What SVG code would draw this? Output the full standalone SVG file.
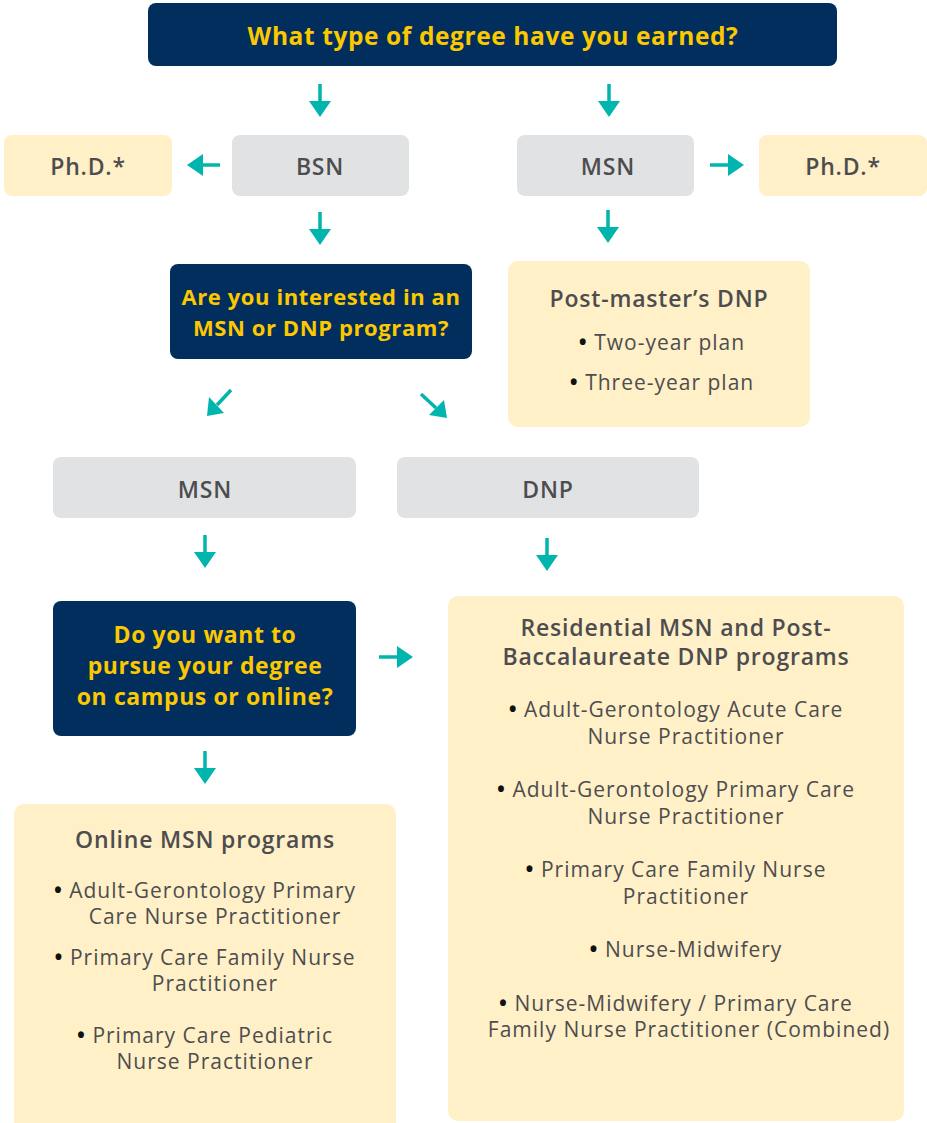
<svg xmlns="http://www.w3.org/2000/svg" width="927" height="1123" viewBox="0 0 927 1123">
<defs>
<style>
.dark{fill:#022e5d}
.gray{fill:#e1e2e4}
.beige{fill:#fff0c7}
.q{font-family:"Open Sans","Liberation Sans",sans-serif;font-weight:700;fill:#fcc800;text-anchor:middle;letter-spacing:0.6px}
.lbl{font-family:"Open Sans","Liberation Sans",sans-serif;font-weight:600;fill:#4d4d4f;text-anchor:middle;font-size:23px;letter-spacing:0.8px}
.ttl{font-family:"Open Sans","Liberation Sans",sans-serif;font-weight:600;fill:#4d4d4f;text-anchor:middle;font-size:23px;letter-spacing:0.8px}
.it{font-family:"Open Sans","Liberation Sans",sans-serif;font-weight:400;fill:#4d4d4f;text-anchor:middle;font-size:21px;letter-spacing:1px}
.b{fill:#111;font-weight:700}
.arr line{stroke:#00b5ad;stroke-width:3.5}
.arr polygon{fill:#00b5ad}
</style>
</defs>
<rect width="927" height="1123" fill="#fff"/>
<g id="connectors" class="arr">
<g><line x1="320" y1="84" x2="320" y2="104"/><polygon points="309,101 331,101 320,117"/></g>
<g><line x1="609" y1="84" x2="609" y2="104"/><polygon points="598,101 620,101 609,117"/></g>
<g><line x1="220" y1="165" x2="200" y2="165"/><polygon points="203,154 203,176 187,165"/></g>
<g><line x1="710" y1="165" x2="731" y2="165"/><polygon points="728,154 728,176 744,165"/></g>
<g><line x1="320" y1="212" x2="320" y2="232"/><polygon points="309,229 331,229 320,245"/></g>
<g><line x1="608" y1="210" x2="608" y2="230"/><polygon points="597,227 619,227 608,243"/></g>
<g><line x1="231" y1="390" x2="217" y2="405"/><polygon points="209,397 224,413 207,416"/></g>
<g><line x1="421" y1="394" x2="436" y2="408"/><polygon points="429,415 444,400 447,418"/></g>
<g><line x1="205" y1="535" x2="205" y2="555"/><polygon points="194,552 216,552 205,568"/></g>
<g><line x1="547" y1="538" x2="547" y2="558"/><polygon points="536,555 558,555 547,571"/></g>
<g><line x1="379" y1="657" x2="400" y2="657"/><polygon points="397,646 397,668 413,657"/></g>
<g><line x1="205" y1="751" x2="205" y2="771"/><polygon points="194,768 216,768 205,784"/></g>
</g>
<g id="q1"><rect class="dark" x="148" y="3" width="689" height="63" rx="8"/><text class="q" x="493" y="45" font-size="24.5">What type of degree have you earned?</text></g>
<g id="phd-left"><rect class="beige" x="4" y="135" width="168" height="61" rx="8"/><text class="lbl" x="88" y="175">Ph.D.*</text></g>
<g id="bsn"><rect class="gray" x="232" y="135" width="177" height="61" rx="8"/><text class="lbl" x="320" y="175">BSN</text></g>
<g id="msn-top"><rect class="gray" x="517" y="135" width="177" height="61" rx="8"/><text class="lbl" x="608" y="175">MSN</text></g>
<g id="phd-right"><rect class="beige" x="759" y="135" width="168" height="61" rx="8"/><text class="lbl" x="843" y="175">Ph.D.*</text></g>
<g id="q2"><rect class="dark" x="170" y="264" width="302" height="95" rx="8"/><text class="q" x="321" y="305" font-size="22">Are you interested in an</text><text class="q" x="321" y="336" font-size="22">MSN or DNP program?</text></g>
<g id="postmaster"><rect class="beige" x="508" y="261" width="302" height="166" rx="10"/><text class="ttl" x="659" y="307">Post-master’s DNP</text><text class="it" x="662" y="350"><tspan class="b">•</tspan>  Two-year plan</text><text class="it" x="662" y="390"><tspan class="b">•</tspan>  Three-year plan</text></g>
<g id="msn"><rect class="gray" x="53" y="457" width="303" height="61" rx="8"/><text class="lbl" x="205" y="498" font-weight="500">MSN</text></g>
<g id="dnp"><rect class="gray" x="397" y="457" width="302" height="61" rx="8"/><text class="lbl" x="548" y="498" font-weight="500">DNP</text></g>
<g id="q3"><rect class="dark" x="53" y="601" width="303" height="135" rx="8"/><text class="q" x="205" y="643" font-size="23">Do you want to</text><text class="q" x="205" y="674" font-size="23">pursue your degree</text><text class="q" x="205" y="705" font-size="23">on campus or online?</text></g>
<g id="online"><rect class="beige" x="14" y="804" width="382" height="330" rx="10"/><text class="ttl" x="205" y="848">Online MSN programs</text>
<text class="it" x="205" y="898"><tspan class="b">•</tspan>  Adult-Gerontology Primary</text><text class="it" x="215" y="924">Care Nurse Practitioner</text>
<text class="it" x="205" y="965"><tspan class="b">•</tspan>  Primary Care Family Nurse</text><text class="it" x="215" y="991">Practitioner</text>
<text class="it" x="205" y="1043"><tspan class="b">•</tspan>  Primary Care Pediatric</text><text class="it" x="215" y="1069">Nurse Practitioner</text></g>
<g id="residential"><rect class="beige" x="448" y="596" width="456" height="525" rx="10"/><text class="ttl" x="676" y="636" font-size="22.5">Residential MSN and Post-</text><text class="ttl" x="676" y="665" font-size="22.5">Baccalaureate DNP programs</text>
<text class="it" x="676" y="717"><tspan class="b">•</tspan>  Adult-Gerontology Acute Care</text><text class="it" x="686" y="744">Nurse Practitioner</text>
<text class="it" x="676" y="797"><tspan class="b">•</tspan>  Adult-Gerontology Primary Care</text><text class="it" x="686" y="824">Nurse Practitioner</text>
<text class="it" x="676" y="877"><tspan class="b">•</tspan>  Primary Care Family Nurse</text><text class="it" x="686" y="904">Practitioner</text>
<text class="it" x="686" y="957"><tspan class="b">•</tspan>   Nurse-Midwifery</text>
<text class="it" x="676" y="1011"><tspan class="b">•</tspan>   Nurse-Midwifery / Primary Care</text><text class="it" x="689" y="1037">Family Nurse Practitioner (Combined)</text></g>
</svg>
